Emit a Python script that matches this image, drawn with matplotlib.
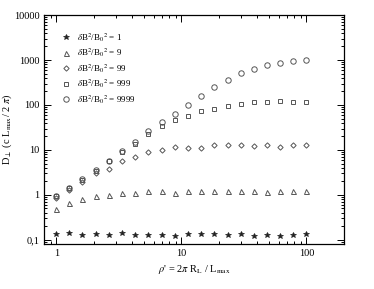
import numpy as np
import matplotlib
matplotlib.use("Agg")
import matplotlib.pyplot as plt
from matplotlib.ticker import FixedLocator, FuncFormatter, LogLocator, NullFormatter

plt.rcParams['font.family'] = ['Liberation Serif', 'DejaVu Serif']
plt.rcParams['mathtext.fontset'] = 'stix'

# x positions: rho'
rho = [1.0, 1.27, 1.62, 2.07, 2.64, 3.36, 4.28, 5.46, 6.95, 8.86,
       11.3, 14.4, 18.3, 23.4, 29.8, 37.9, 48.3, 61.6, 78.5, 100.0]

d_1 = [0.134, 0.141, 0.131, 0.135, 0.127, 0.141, 0.131, 0.131, 0.131, 0.124,
       0.134, 0.134, 0.134, 0.127, 0.135, 0.124, 0.127, 0.124, 0.129, 0.135]
d_9 = [0.48, 0.65, 0.80, 0.96, 1.02, 1.12, 1.09, 1.21, 1.21, 1.12,
       1.23, 1.23, 1.23, 1.23, 1.23, 1.23, 1.17, 1.23, 1.21, 1.23]
d_99 = [0.85, 1.29, 1.9, 3.0, 3.8, 5.7, 6.9, 8.9, 10.0, 11.5,
        11.2, 11.1, 12.7, 12.9, 12.9, 12.5, 13.1, 11.8, 12.7, 13.1]
d_999 = [0.95, 1.4, 2.1, 3.4, 5.6, 9.0, 13.6, 23.0, 34.0, 46.0,
         58.0, 75.0, 80.0, 96.0, 104.0, 118.0, 118.0, 123.0, 115.0, 118.0]
d_9999 = [0.97, 1.45, 2.25, 3.6, 5.8, 9.5, 15.0, 26.0, 41.0, 63.0,
          100.0, 156.0, 247.0, 359.0, 506.0, 621.0, 774.0, 844.0, 935.0, 1015.0]

labels = [r"$\delta$B$^2$/B$_0$$^2$ = 1", r"$\delta$B$^2$/B$_0$$^2$ = 9",
          r"$\delta$B$^2$/B$_0$$^2$ = 99", r"$\delta$B$^2$/B$_0$$^2$ = 999",
          r"$\delta$B$^2$/B$_0$$^2$ = 9999"]

fig = plt.figure(figsize=(3.74, 2.89), dpi=100)
ax = fig.add_axes([0.118, 0.156, 0.802, 0.792])

ec = '#555555'
ax.plot(rho, d_1, linestyle='none', marker='*', ms=4.2, color='#222222', mec='#222222', mew=0.5, label=labels[0])
ax.plot(rho, d_9, linestyle='none', marker='^', ms=3.6, mfc='none', mec=ec, mew=0.7, label=labels[1])
ax.plot(rho, d_99, linestyle='none', marker='D', ms=2.7, mfc='none', mec=ec, mew=0.7, label=labels[2])
ax.plot(rho, d_999, linestyle='none', marker='s', ms=3.2, mfc='none', mec=ec, mew=0.7, label=labels[3])
ax.plot(rho, d_9999, linestyle='none', marker='o', ms=3.9, mfc='none', mec=ec, mew=0.7, label=labels[4])

ax.set_xscale('log')
ax.set_yscale('log')
ax.set_xlim(0.8, 200)
ax.set_ylim(0.0815, 10000)

ax.yaxis.set_major_locator(FixedLocator([0.1, 1, 10, 100, 1000, 10000]))
ax.yaxis.set_major_formatter(FuncFormatter(lambda v, p: {0.1: '0,1'}.get(round(v, 3), '%d' % round(v))))
ax.yaxis.set_minor_locator(LogLocator(base=10, subs=np.arange(2, 10)))
ax.yaxis.set_minor_formatter(NullFormatter())
ax.xaxis.set_major_locator(FixedLocator([1, 10, 100]))
ax.xaxis.set_major_formatter(FuncFormatter(lambda v, p: '%d' % round(v)))
ax.xaxis.set_minor_locator(LogLocator(base=10, subs=np.arange(2, 10)))
ax.xaxis.set_minor_formatter(NullFormatter())

ax.tick_params(which='both', direction='in', top=True, right=True, labelsize=7.5, width=0.7)
ax.tick_params(which='major', length=5)
ax.tick_params(which='minor', length=2.5)
for s in ax.spines.values():
    s.set_linewidth(0.9)

ax.set_xlabel(r"$\rho$' = 2$\pi$ R$_\mathrm{L}$ / L$_\mathrm{max}$", fontsize=7.5, labelpad=4)
ax.set_ylabel(r"D$_\perp$ (c L$_\mathrm{max}$/ 2 $\pi$)", fontsize=7.5)
ax.yaxis.set_label_coords(-0.1, 0.5)

leg = ax.legend(loc='upper left', bbox_to_anchor=(0.045, 0.945), frameon=False, fontsize=6.5,
                handletextpad=0.7, labelspacing=0.32, handlelength=1.0, borderaxespad=0)

fig.savefig('out.png', dpi=100)
